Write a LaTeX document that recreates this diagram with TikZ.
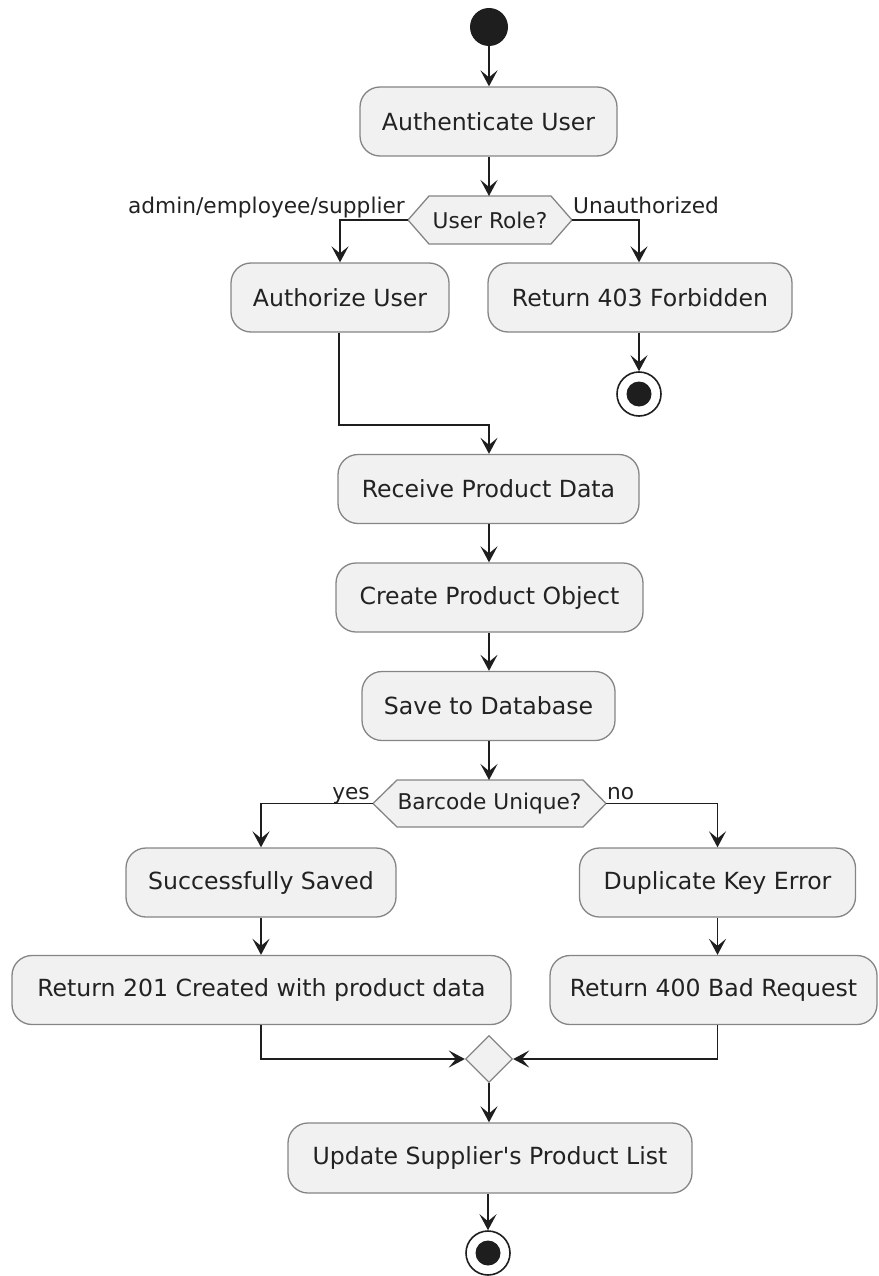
\documentclass[tikz,border=0pt]{standalone}
\usepackage{fontspec}
\setmainfont{DejaVu Sans}[Ligatures=TeXOff]
\usetikzlibrary{arrows.meta,shapes.geometric}
\definecolor{boxfill}{HTML}{F1F1F1}
\definecolor{boxline}{HTML}{858585}
\definecolor{ink}{HTML}{1E1E1E}
\definecolor{txt}{HTML}{222222}
\tikzset{
  act/.style={draw=boxline, fill=boxfill, rounded corners=20pt, line width=1.3pt,
    minimum height=69pt, inner sep=0pt, text=txt, font=\fontsize{23.6}{28}\selectfont},
  hexshape/.style={draw=boxline, fill=boxfill, line width=1.3pt},
  hextext/.style={inner sep=0pt, text=txt, font=\fontsize{21.7}{26}\selectfont},
  lbl/.style={inner sep=0pt, text=txt, font=\fontsize{21.7}{26}\selectfont},
  arr/.style={draw=ink, line width=1.9pt, -{Stealth[length=16pt,width=17pt,inset=7pt]}},
  startdot/.style={circle, fill=ink, minimum size=38pt, inner sep=0pt},
  endring/.style={circle, draw=ink, line width=1.6pt, fill=white, minimum size=44pt, inner sep=0pt},
  enddot/.style={circle, fill=ink, minimum size=25pt, inner sep=0pt},
  merge/.style={diamond, draw=boxline, fill=boxfill, line width=1.3pt, minimum width=47pt, minimum height=47pt, inner sep=0pt}
}
\begin{document}
\begin{tikzpicture}[x=1pt,y=-1pt]
\useasboundingbox (0,0) rectangle (878,1276);

% start
\node[startdot] (start) at (489,27) {};
\node[act, minimum width=257pt] (auth) at (488.5,121.5) {Authenticate User};

% decision: User Role?
\coordinate (roleN) at (489,196);
\coordinate (roleW) at (408,220);
\coordinate (roleE) at (572,220);
\draw[hexshape] (roleW) -- (429,196) -- (551,196) -- (roleE) -- (551,244) -- (429,244) -- cycle;
\node[hextext] (role) at (490,220) {User Role?};
\node[lbl, anchor=base east] (lblA) at (405,213) {admin/employee/supplier};
\node[lbl, anchor=base west] (lblU) at (573,213) {Unauthorized};

\node[act, minimum width=218pt] (authz) at (340,297.5) {Authorize User};
\node[act, minimum width=304pt] (forbid) at (640,297.5) {Return 403 Forbidden};
\node[endring] (end1) at (639,394) {};
\node[enddot] (end1dot) at (end1) {};

\coordinate (j1) at (489,425);
\node[act, minimum width=301pt] (recv) at (488.5,489) {Receive Product Data};
\node[act, minimum width=307pt] (create) at (489.5,597.5) {Create Product Object};
\node[act, minimum width=253pt] (save) at (488.5,706) {Save to Database};

% decision: Barcode Unique?
\coordinate (barN) at (489,780);
\coordinate (barW) at (373,803.5);
\coordinate (barE) at (606,803.5);
\draw[hexshape] (barW) -- (397,780) -- (583,780) -- (barE) -- (583,827) -- (397,827) -- cycle;
\node[hextext] (bar) at (489.5,803.5) {Barcode Unique?};
\node[lbl, anchor=base east] (lblY) at (370,799) {yes};
\node[lbl, anchor=base west] (lblN) at (607,799) {no};

\node[act, minimum width=270pt] (saved) at (261,882.5) {Successfully Saved};
\node[act, minimum width=276pt] (dup) at (717.5,882.5) {Duplicate Key Error};
\node[act, minimum width=499pt] (r201) at (261.5,990) {Return 201 Created with product data};
\node[act, minimum width=327pt] (r400) at (713.5,990) {Return 400 Bad Request};

\node[merge] (mrg) at (489,1059) {};
\node[act, minimum width=404pt, minimum height=70pt] (upd) at (490,1158) {Update Supplier's Product List};
\node[endring] (end2) at (488,1253) {};
\node[enddot] (end2dot) at (end2) {};

% connectors
\draw[arr] (start.south) -- (auth.north -| start);
\draw[arr] (auth.south -| roleN) -- (roleN);
\draw[arr] (roleW) -| (authz.north);
\draw[arr] (roleE) -| (forbid.north -| end1);
\draw[arr] (forbid.south -| end1) -- (end1.north);
\draw[arr] (authz.south -| 339,0) |- (j1) -- (recv.north -| j1);
\draw[arr] (recv.south -| j1) -- (create.north -| j1);
\draw[arr] (create.south -| j1) -- (save.north -| j1);
\draw[arr] (save.south -| barN) -- (barN);
\draw[arr] (barW) -| (saved.north);
\draw[arr] (barE) -| (dup.north);
\draw[arr] (saved.south) -- (r201.north -| saved);
\draw[arr] (dup.south) -- (r400.north -| dup);
\draw[arr] (r201.south -| saved) |- (mrg.west);
\draw[arr] (r400.south -| dup) |- (mrg.east);
\draw[arr] (mrg.south) -- (upd.north -| mrg);
\draw[arr] (upd.south -| end2) -- (end2.north);
\end{tikzpicture}
\end{document}
